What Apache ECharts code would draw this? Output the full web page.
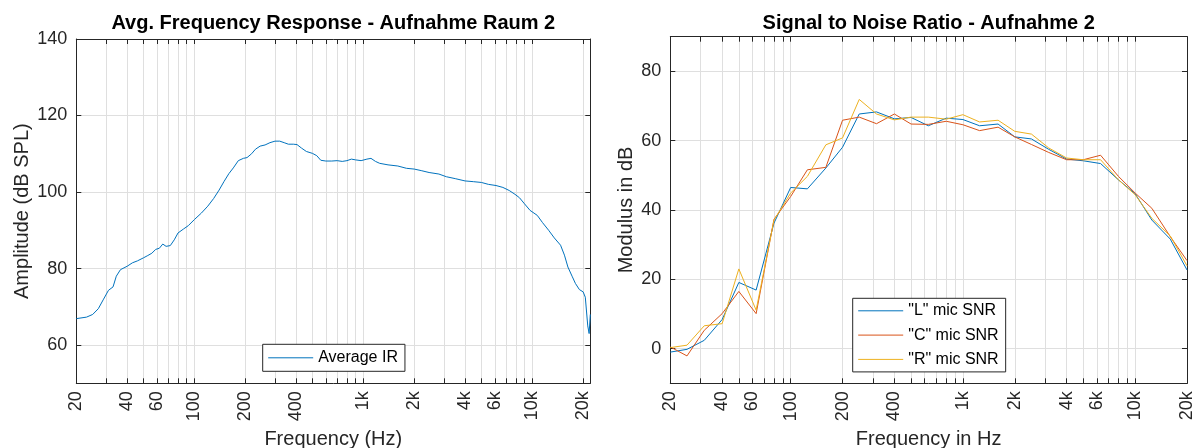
<!DOCTYPE html>
<html><head><meta charset="utf-8">
<script src="https://cdn.jsdelivr.net/npm/echarts@6/dist/echarts.min.js"></script>
<style>html,body{margin:0;padding:0;background:#fff}#c{width:1197px;height:448px}</style>
</head><body><div id="c"></div>
<script>
// ---- Left plot: average impulse response magnitude ----
const irFreq = [20,23,25,27,29,31,33,34.5,36.5,40,43,46,50,53,56,59,62,65,68,72,76,80,86,92,100,110,120,130,140,150,160,170,182,195,205,218,230,245,262,280,300,320,340,360,385,405,430,460,500,530,560,600,650,700,750,800,850,900,970,1050,1110,1180,1250,1400,1600,1800,2000,2200,2450,2800,3100,3500,4000,4500,5000,5500,6100,6700,7300,7900,8400,9000,9700,10700,11500,12500,13500,14700,15500,16250,17200,18000,19000,20000,20600,21300,21700,22050];
const irLevel = [66.9,67.3,68.0,69.5,72.0,74.3,75.2,78.0,79.7,80.6,81.5,82.0,82.8,83.4,84.0,85.0,85.3,86.4,85.8,86.0,87.5,89.3,90.3,91.2,92.8,94.5,96.3,98.3,100.5,102.8,104.8,106.3,108.2,108.8,109.0,110.0,111.2,112.0,112.3,112.9,113.3,113.3,112.9,112.5,112.5,112.4,111.5,110.6,110.1,109.5,108.3,108.1,108.1,108.2,108.0,108.2,108.6,108.4,108.2,108.6,108.8,108.0,107.5,107.1,106.8,106.2,106.0,105.6,105.1,104.7,104.0,103.5,102.9,102.7,102.5,102.0,101.7,101.2,100.4,99.4,98.5,96.9,95.2,93.9,92.0,90.0,88.0,86.1,83.5,80.4,78.0,76.1,74.5,73.9,72.5,65.0,63.0,68.0];

// ---- Right plot: SNR per third-octave band ----
const bandFreq = [20,25,31.5,40,50,63,80,100,125,160,200,250,315,400,500,630,800,1000,1250,1600,2000,2500,3150,4000,5000,6300,8000,10000,12500,16000,20000];
const snrL = [-1.0,-0.2,2.4,8.4,19.1,16.9,36.2,46.5,46.1,52.1,58.1,67.7,68.3,66.3,66.7,64.3,66.5,66.1,64.3,64.8,61.1,60.5,57.5,54.7,54.2,53.4,48.7,44.7,37.1,31.6,22.7];
const snrC = [0.5,-2.1,5.3,10.1,16.5,10.1,37.3,43.9,51.6,52.3,65.9,66.8,64.9,67.7,64.8,64.7,65.6,64.6,62.9,63.9,61.1,58.9,56.6,54.5,54.5,55.8,49.7,44.9,40.5,32.3,25.4];
const snrR = [0.3,1.0,6.6,7.2,23.0,11.1,37.1,44.9,49.7,58.8,60.8,71.9,67.7,66.0,66.8,66.8,66.2,67.5,65.4,65.9,62.7,61.9,57.9,55.0,54.5,54.5,48.7,44.4,37.6,32.5,23.9];

// ---- Tick values ----
const freqLabelTicks = [20,40,60,100,200,400,1000,2000,4000,6000,10000,20000];
const freqGridTicks = [20,30,40,50,60,70,80,90,100,200,300,400,500,600,700,800,900,1000,2000,3000,4000,5000,6000,7000,8000,9000,10000,20000];
const ampTicks = [60,80,100,120,140];
const snrTicks = [0,20,40,60,80];

const TXT = '#262626';
const FONT = '"Liberation Sans", Arial, Helvetica, sans-serif';
const GRIDC = '#dfdfdf';

function fmtFreq(v) {
  const r = Math.round(v);
  return r >= 1000 ? (Math.round(r / 1000) + 'k') : String(r);
}

function xAxes(gridIndex, max, name) {
  return [{
    type: 'log', logBase: 10, gridIndex, min: 20, max, position: 'bottom',
    name, nameLocation: 'middle', nameGap: 43,
    nameTextStyle: { fontSize: 20, color: TXT, fontFamily: FONT },
    axisLine: { show: true, onZero: false, lineStyle: { color: TXT, width: 1 } },
    axisTick: { show: true, inside: true, length: 5, customValues: freqGridTicks, lineStyle: { color: TXT } },
    axisLabel: { show: true, rotate: 90, margin: 8, fontSize: 18, color: TXT, fontFamily: FONT,
      customValues: freqLabelTicks, formatter: fmtFreq },
    splitLine: { show: true, lineStyle: { color: GRIDC, width: 1 } },
    minorTick: { show: false }, minorSplitLine: { show: false }
  }, {
    type: 'log', logBase: 10, gridIndex, min: 20, max, position: 'top',
    axisLine: { show: true, onZero: false, lineStyle: { color: TXT, width: 1 } },
    axisTick: { show: true, inside: true, length: 5, customValues: freqGridTicks, lineStyle: { color: TXT } },
    axisLabel: { show: false }, splitLine: { show: false }
  }];
}

function yAxes(gridIndex, min, max, ticks, name, gap) {
  return [{
    type: 'value', gridIndex, min, max, position: 'left',
    name, nameLocation: 'middle', nameGap: gap,
    nameTextStyle: { fontSize: 20, color: TXT, fontFamily: FONT },
    axisLine: { show: true, onZero: false, lineStyle: { color: TXT, width: 1 } },
    axisTick: { show: true, inside: true, length: 5, customValues: ticks, lineStyle: { color: TXT } },
    axisLabel: { show: true, margin: 9, fontSize: 18, color: TXT, fontFamily: FONT, customValues: ticks },
    splitLine: { show: true, lineStyle: { color: GRIDC, width: 1 } }
  }, {
    type: 'value', gridIndex, min, max, position: 'right',
    axisLine: { show: true, onZero: false, lineStyle: { color: TXT, width: 1 } },
    axisTick: { show: true, inside: true, length: 5, customValues: ticks, lineStyle: { color: TXT } },
    axisLabel: { show: false }, splitLine: { show: false }
  }];
}

const chart = echarts.init(document.getElementById('c'), null, { renderer: 'canvas' });
const lineSeries = (name, xi, yi, xs, ys, color) => ({
  name, type: 'line', xAxisIndex: xi, yAxisIndex: yi,
  data: xs.map((f, i) => [f, ys[i]]),
  symbol: 'none', showSymbol: false, smooth: false,
  lineStyle: { color, width: 1 }, itemStyle: { color },
  emphasis: { disabled: true }, z: 3
});

const legendCommon = {
  orient: 'vertical', itemWidth: 45, itemHeight: 14,
  backgroundColor: '#fff', borderColor: TXT, borderWidth: 1, borderRadius: 0,
  textStyle: { fontSize: 16, color: '#000', fontFamily: FONT },
  itemStyle: { opacity: 0 }, lineStyle: { width: 1 }, selectedMode: false
};

chart.setOption({
  animation: false,
  backgroundColor: '#fff',
  textStyle: { fontFamily: FONT },
  title: [
    { text: 'Avg. Frequency Response - Aufnahme Raum 2', left: 333.3, top: 13, textAlign: 'center', padding: 0,
      textStyle: { fontSize: 20, fontWeight: 'bold', color: '#000', fontFamily: FONT } },
    { text: 'Signal to Noise Ratio - Aufnahme 2', left: 928.7, top: 13, textAlign: 'center', padding: 0,
      textStyle: { fontSize: 20, fontWeight: 'bold', color: '#000', fontFamily: FONT } }
  ],
  grid: [
    { left: 76.3, top: 39, width: 514, height: 344.3, outerBoundsMode: 'none', containLabel: false },
    { left: 670.3, top: 36.7, width: 516.7, height: 346.6, outerBoundsMode: 'none', containLabel: false }
  ],
  xAxis: [...xAxes(0, 22050, 'Frequency (Hz)'), ...xAxes(1, 20000, 'Frequency in Hz')],
  yAxis: [...yAxes(0, 50, 140, ampTicks, 'Amplitude (dB SPL)', 44), ...yAxes(1, -10, 90, snrTicks, 'Modulus in dB', 34)],
  legend: [
    Object.assign({ data: ['Average IR'], left: 262.7, top: 344.3,
      padding: [5.5, 7, 5.5, 5], itemGap: 6 }, legendCommon),
    Object.assign({ data: ['"L" mic SNR', '"C" mic SNR', '"R" mic SNR'], left: 852.7, top: 298.3,
      padding: [4.5, 7, 4.5, 5], itemGap: 8.3 }, legendCommon)
  ],
  series: [
    lineSeries('Average IR', 0, 0, irFreq, irLevel, '#0072BD'),
    lineSeries('"L" mic SNR', 2, 2, bandFreq, snrL, '#0072BD'),
    lineSeries('"C" mic SNR', 2, 2, bandFreq, snrC, '#D95319'),
    lineSeries('"R" mic SNR', 2, 2, bandFreq, snrR, '#EDB120')
  ]
});
</script>
</body></html>
